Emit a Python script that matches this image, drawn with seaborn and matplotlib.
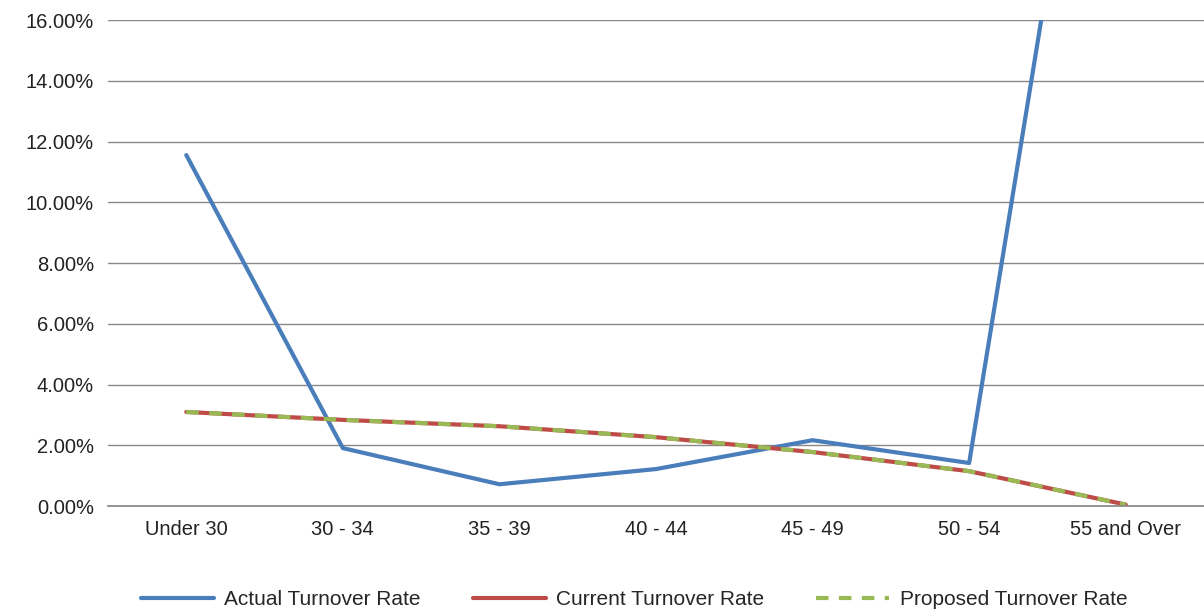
import matplotlib
matplotlib.use("Agg")
import matplotlib.pyplot as plt
import seaborn as sns
import pandas as pd
from matplotlib.ticker import FuncFormatter

sns.set_theme(style="white")
plt.rcParams['font.family'] = ['Liberation Sans', 'DejaVu Sans']

faixas = ['Under 30', '30 - 34', '35 - 39', '40 - 44', '45 - 49', '50 - 54', '55 and Over']
actual = [11.56, 1.91, 0.72, 1.22, 2.17, 1.42, 33.1]
current = [3.10, 2.84, 2.63, 2.27, 1.78, 1.15, 0.05]
proposed = [3.10, 2.84, 2.63, 2.27, 1.78, 1.15, 0.05]

df = pd.DataFrame({'x': range(len(faixas)), 'Actual': actual, 'Current': current, 'Proposed': proposed})

fig = plt.figure(figsize=(12.04, 6.12), dpi=100)
ax = fig.add_axes([0.0897, 0.173, 0.9103, 0.794])

sns.lineplot(data=df, x='x', y='Actual', ax=ax, color='#4A7EBB', linewidth=3, label='Actual Turnover Rate')
sns.lineplot(data=df, x='x', y='Current', ax=ax, color='#BE4B48', linewidth=3, label='Current Turnover Rate')
sns.lineplot(data=df, x='x', y='Proposed', ax=ax, color='#98B954', linewidth=3, label='Proposed Turnover Rate',
             linestyle=(0, (3, 2.5)))

ax.set_xlim(-0.5, 6.5)
ax.set_ylim(0, 16)
ax.set_yticks(range(0, 17, 2))
ax.yaxis.set_major_formatter(FuncFormatter(lambda v, p: f'{v:.2f}%'))
ax.set_xticks(range(len(faixas)))
ax.set_xticklabels(faixas)
ax.set_xlabel('')
ax.set_ylabel('')
ax.tick_params(axis='both', labelsize=14.5, colors='#222222', length=0, pad=10)
ax.grid(axis='y', color='#888888', linewidth=1)
for s in ['top', 'right', 'left']:
    ax.spines[s].set_visible(False)
ax.spines['bottom'].set_color('#888888')

ax.legend(loc='upper center', bbox_to_anchor=(0.48, -0.135), ncol=3, frameon=False,
          fontsize=15, handlelength=3.5, handletextpad=0.5, columnspacing=2.5)

fig.savefig('out.png', dpi=100)
